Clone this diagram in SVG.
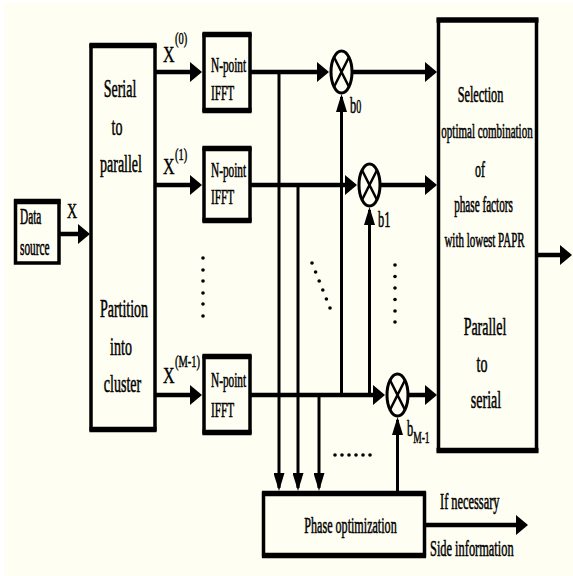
<svg xmlns="http://www.w3.org/2000/svg" width="573" height="576" viewBox="0 0 573 576">
<style>
.bg{fill:#FFFEF2}
.box{fill:#FFFEF2;stroke:#000;stroke-width:3.5}
.edge{fill:none;stroke:#000;stroke-width:5.5}
.h{fill:none;stroke:#000;stroke-width:4.5}
.v{fill:none;stroke:#000;stroke-width:3}
.mul{fill:#FFFEF2;stroke:#000;stroke-width:3}
.x{stroke:#000;stroke-width:2.5}
text{font-family:"Liberation Serif","Times New Roman",serif;fill:#000;stroke:#000;stroke-width:0.3}
.m{text-anchor:middle}
.f14{font-size:14px}
.f12{font-size:12.4px}
.f11{font-size:11.3px}
.f16{font-size:16px}
.f10{font-size:10.5px}
.dot{fill:#000}
</style>
<defs>
<marker id="ah" markerUnits="userSpaceOnUse" markerWidth="12" markerHeight="20" refX="9" refY="10" orient="auto">
<path d="M0,0 L12,10 L0,20 z" fill="#000"/>
</marker>
<marker id="av" markerUnits="userSpaceOnUse" markerWidth="18" markerHeight="11" refX="15" refY="5.5" orient="auto">
<path d="M0,0 L18,5.5 L0,11 z" fill="#000"/>
</marker>
</defs>
<rect x="0" y="0" width="573" height="576" fill="#FFFFFF"/>
<rect class="bg" x="4" y="3" width="569" height="573"/>

<g id="connectors">
<path class="h" d="M59,234 H87" marker-end="url(#ah)"/>
<path class="h" d="M155,72 H199" marker-end="url(#ah)"/>
<path class="h" d="M155,185 H199" marker-end="url(#ah)"/>
<path class="h" d="M155,395 H199" marker-end="url(#ah)"/>
<path class="h" d="M250,72 H326" marker-end="url(#ah)"/>
<path class="h" d="M250,185 H354" marker-end="url(#ah)"/>
<path class="h" d="M250,395 H382" marker-end="url(#ah)"/>
<path class="h" d="M352,72 H434" marker-end="url(#ah)"/>
<path class="h" d="M380,185 H434" marker-end="url(#ah)"/>
<path class="h" d="M408,395 H434" marker-end="url(#ah)"/>
<path class="h" d="M537,255 H569" marker-end="url(#ah)"/>
<path class="h" d="M425,525 H525" marker-end="url(#ah)"/>
<path class="v" d="M279,72 V488" marker-end="url(#av)"/>
<path class="v" d="M298,185 V488" marker-end="url(#av)"/>
<path class="v" d="M319,395 V488" marker-end="url(#av)"/>
<path class="v" d="M341.5,395 V97" marker-end="url(#av)"/>
<path class="v" d="M369.5,395 V210" marker-end="url(#av)"/>
<path class="v" d="M397.5,491 V420" marker-end="url(#av)"/>
</g>

<g id="data-source">
<rect class="box" x="15.5" y="201" width="43.5" height="62"/>
<path class="edge" d="M14,201.5 H60.5"/>
<text class="f11" transform="translate(20,224) scale(1,1.95)">Data</text>
<text class="f11" transform="translate(20,255) scale(1,1.95)">source</text>
</g>
<text id="label-x" class="f14" transform="translate(67,218) scale(1,1.55)">X</text>

<g id="serial-to-parallel">
<rect class="box" x="91" y="45.5" width="64" height="384"/>
<path class="edge" d="M89.5,45.5 H156.5 M89.5,429.5 H156.5"/>
<text class="f14 m" transform="translate(120,97) scale(1,1.85)">Serial</text>
<text class="f14 m" transform="translate(117,135) scale(1,1.85)">to</text>
<text class="f14 m" transform="translate(121,172) scale(1,1.85)">parallel</text>
<text class="f14 m" transform="translate(124,317) scale(1,1.85)">Partition</text>
<text class="f14 m" transform="translate(121,355) scale(1,1.85)">into</text>
<text class="f14 m" transform="translate(122.5,392) scale(1,1.85)">cluster</text>
</g>

<g id="labels-x">
<text class="f16" transform="translate(163,62) scale(1,1.45)">X</text>
<text class="f10" transform="translate(175,44) scale(1,1.5)">(0)</text>
<text class="f16" transform="translate(163,174) scale(1,1.45)">X</text>
<text class="f10" transform="translate(175,160) scale(1,1.5)">(1)</text>
<text class="f16" transform="translate(163,383) scale(1,1.45)">X</text>
<text class="f10" transform="translate(175,367) scale(1,1.5)">(M-1)</text>
</g>

<g id="ifft-0">
<rect class="box" x="204" y="34.5" width="46" height="76"/>
<path class="edge" d="M202.5,34.5 H251.5 M202.5,110.5 H251.5"/>
<text class="f11" transform="translate(211,72) scale(1,1.85)">N-point</text>
<text class="f11" transform="translate(211,100) scale(1,1.85)">IFFT</text>
</g>
<g id="ifft-1">
<rect class="box" x="204" y="148.5" width="46" height="72"/>
<path class="edge" d="M202.5,148.5 H251.5 M202.5,220.5 H251.5"/>
<text class="f11" transform="translate(211,177) scale(1,1.85)">N-point</text>
<text class="f11" transform="translate(211,204) scale(1,1.85)">IFFT</text>
</g>
<g id="ifft-m1">
<rect class="box" x="204" y="356.5" width="46" height="76"/>
<path class="edge" d="M202.5,356.5 H251.5 M202.5,432.5 H251.5"/>
<text class="f11" transform="translate(211,387) scale(1,1.85)">N-point</text>
<text class="f11" transform="translate(211,417) scale(1,1.85)">IFFT</text>
</g>

<g id="mult-0">
<ellipse class="mul" cx="341.5" cy="72" rx="10.5" ry="21"/>
<path class="x" d="M334.1,57.2 L348.9,86.8 M348.9,57.2 L334.1,86.8"/>
<text class="f12" transform="translate(350,113) scale(1,1.8)">b<tspan font-size="10px">0</tspan></text>
</g>
<g id="mult-1">
<ellipse class="mul" cx="369.5" cy="185" rx="10.5" ry="21"/>
<path class="x" d="M362.1,170.2 L376.9,199.8 M376.9,170.2 L362.1,199.8"/>
<text class="f12" transform="translate(378,227) scale(1,1.8)">b1</text>
</g>
<g id="mult-m1">
<ellipse class="mul" cx="397.5" cy="395" rx="10.5" ry="21"/>
<path class="x" d="M390.1,380.2 L404.9,409.8 M404.9,380.2 L390.1,409.8"/>
<text class="f12" transform="translate(407,436) scale(1,1.8)">b<tspan font-size="9.5px" dy="4">M-1</tspan></text>
</g>

<g id="dots">
<circle class="dot" cx="203" cy="258" r="1.8"/>
<circle class="dot" cx="203" cy="270" r="1.8"/>
<circle class="dot" cx="203" cy="281" r="1.8"/>
<circle class="dot" cx="203" cy="293" r="1.8"/>
<circle class="dot" cx="203" cy="304" r="1.8"/>
<circle class="dot" cx="203" cy="316" r="1.8"/>
<circle class="dot" cx="312" cy="263" r="1.8"/>
<circle class="dot" cx="315.6" cy="272" r="1.8"/>
<circle class="dot" cx="319.2" cy="281" r="1.8"/>
<circle class="dot" cx="322.8" cy="290" r="1.8"/>
<circle class="dot" cx="326.4" cy="299" r="1.8"/>
<circle class="dot" cx="330" cy="308" r="1.8"/>
<circle class="dot" cx="395" cy="265" r="1.8"/>
<circle class="dot" cx="395" cy="276.5" r="1.8"/>
<circle class="dot" cx="395" cy="288" r="1.8"/>
<circle class="dot" cx="395" cy="299.5" r="1.8"/>
<circle class="dot" cx="395" cy="311" r="1.8"/>
<circle class="dot" cx="395" cy="322" r="1.8"/>
<circle class="dot" cx="335" cy="455" r="1.8"/>
<circle class="dot" cx="342" cy="455" r="1.8"/>
<circle class="dot" cx="349" cy="455" r="1.8"/>
<circle class="dot" cx="356" cy="455" r="1.8"/>
<circle class="dot" cx="363" cy="455" r="1.8"/>
<circle class="dot" cx="370" cy="455" r="1.8"/>
</g>

<g id="selection">
<rect class="box" x="438.5" y="20" width="98" height="430"/>
<path class="edge" d="M436.5,20 H538.5 M436.5,450.5 H538.5"/>
<text class="m" font-size="12.3px" transform="translate(480.5,102) scale(1,1.95)">Selection</text>
<text class="m" font-size="11px" transform="translate(487,138) scale(1,2)">optimal combination</text>
<text class="m" font-size="12px" transform="translate(480,177) scale(1,1.95)">of</text>
<text class="m" font-size="11.2px" transform="translate(483.5,212) scale(1,2)">phase factors</text>
<text class="m" font-size="11px" transform="translate(484.5,247) scale(1,2)">with lowest PAPR</text>
<text class="f14 m" transform="translate(485,335) scale(1,1.85)">Parallel</text>
<text class="f14 m" transform="translate(482,372) scale(1,1.85)">to</text>
<text class="f14 m" transform="translate(486,408) scale(1,1.85)">serial</text>
</g>

<g id="phase-optimization">
<rect class="box" x="263.5" y="493.5" width="161" height="62"/>
<path class="edge" d="M262,493.5 H426 M262,555.5 H426"/>
<text class="m" font-size="12.1px" transform="translate(350.5,533) scale(1,1.9)">Phase optimization</text>
</g>
<text class="f12" transform="translate(440,509) scale(1,1.85)">If necessary</text>
<text class="f12" transform="translate(430,556) scale(1,1.85)">Side information</text>
</svg>
